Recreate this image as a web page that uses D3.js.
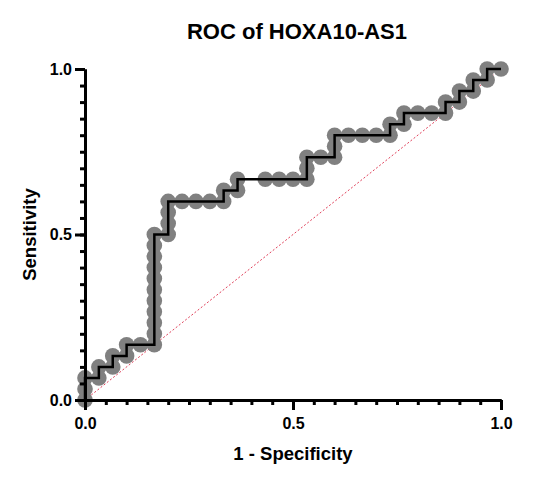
<!DOCTYPE html>
<html>
<head>
<meta charset="utf-8">
<script src="https://cdn.jsdelivr.net/npm/d3@7"></script>
<style>
  body { margin: 0; background: #fff; }
  text { font-family: Arial, "Liberation Sans", sans-serif; font-weight: bold; }
</style>
</head>
<body>
<div id="chart"></div>
<script>
// ROC points (1 - specificity, sensitivity)
const fpr = [0, 0, 0, 0.0333, 0.0333, 0.0667, 0.0667, 0.1, 0.1, 0.1333, 0.1667,
    0.1667, 0.1667, 0.1667, 0.1667, 0.1667, 0.1667, 0.1667, 0.1667, 0.1667, 0.1667,
    0.2, 0.2, 0.2, 0.2, 0.2333, 0.2667, 0.3, 0.3333, 0.3333, 0.3667, 0.3667,
    0.4333, 0.4667, 0.5, 0.5333, 0.5333, 0.5333, 0.5667, 0.6, 0.6, 0.6,
    0.6333, 0.6667, 0.7, 0.7333, 0.7333, 0.7667, 0.7667, 0.8, 0.8333, 0.8667,
    0.8667, 0.9, 0.9, 0.9333, 0.9333, 0.9667, 0.9667, 1];
const tpr = [0, 0.0333, 0.0667, 0.0667, 0.1, 0.1, 0.1333, 0.1333, 0.1667, 0.1667, 0.1667,
    0.2, 0.2333, 0.2667, 0.3, 0.3333, 0.3667, 0.4, 0.4333, 0.4667, 0.5,
    0.5, 0.5333, 0.5667, 0.6, 0.6, 0.6, 0.6, 0.6, 0.6333, 0.6333, 0.6667,
    0.6667, 0.6667, 0.6667, 0.6667, 0.7, 0.7333, 0.7333, 0.7333, 0.7667, 0.8,
    0.8, 0.8, 0.8, 0.8, 0.8333, 0.8333, 0.8667, 0.8667, 0.8667, 0.8667,
    0.9, 0.9, 0.9333, 0.9333, 0.9667, 0.9667, 1, 1];
const majorTicks = [0, 0.5, 1];
const minorTicks = d3.range(0, 1.0001, 0.05);

const chartTitle = "ROC of HOXA10-AS1";
const xTitle = "1 - Specificity";
const yTitle = "Sensitivity";

const margin = {top: 69, right: 56, bottom: 82, left: 85};
const width = 557 - margin.left - margin.right;
const height = 482 - margin.top - margin.bottom;

const svg = d3.select("#chart").append("svg")
    .attr("width", 557)
    .attr("height", 482);

const g = svg.append("g")
    .attr("transform", `translate(${margin.left},${margin.top})`);

const x = d3.scaleLinear().domain([0, 1]).range([0, width]);
const y = d3.scaleLinear().domain([0, 1]).range([height, 0]);

const points = fpr.map((f, i) => ({x: f, y: tpr[i]}));

// chance line
g.append("line")
    .attr("x1", x(0)).attr("y1", y(0))
    .attr("x2", x(1)).attr("y2", y(1))
    .attr("stroke", "#e0405a")
    .attr("stroke-width", 1)
    .attr("stroke-dasharray", "2,2");

// points
g.selectAll("circle")
    .data(points)
    .enter().append("circle")
    .attr("cx", d => x(d.x))
    .attr("cy", d => y(d.y))
    .attr("r", 7.8)
    .attr("fill", "#808080");

// staircase line
const line = d3.line().x(d => x(d.x)).y(d => y(d.y));
g.append("path")
    .datum(points)
    .attr("d", line)
    .attr("fill", "none")
    .attr("stroke", "#000")
    .attr("stroke-width", 2.5);

// axes: minor ticks then major ticks with labels
function styleAxis(sel) {
    sel.select(".domain").attr("stroke", "#000").attr("stroke-width", 3);
    sel.selectAll(".tick line").attr("stroke", "#000").attr("stroke-width", 3);
    sel.selectAll(".tick text").attr("font-size", 16).attr("fill", "#000");
}

const xMinor = g.append("g")
    .attr("transform", `translate(0,${height})`)
    .call(d3.axisBottom(x).tickValues(minorTicks).tickSize(5).tickSizeOuter(0).tickFormat(""));
styleAxis(xMinor);
const xMajor = g.append("g")
    .attr("transform", `translate(0,${height})`)
    .call(d3.axisBottom(x).tickValues(majorTicks).tickSize(10).tickSizeOuter(0)
        .tickPadding(8).tickFormat(d3.format(".1f")));
styleAxis(xMajor);

const yMinor = g.append("g")
    .call(d3.axisLeft(y).tickValues(minorTicks).tickSize(5).tickSizeOuter(0).tickFormat(""));
styleAxis(yMinor);
const yMajor = g.append("g")
    .call(d3.axisLeft(y).tickValues(majorTicks).tickSize(10).tickSizeOuter(0)
        .tickPadding(3).tickFormat(d3.format(".1f")));
styleAxis(yMajor);

// titles
svg.append("text")
    .attr("x", margin.left + width / 2 + 4)
    .attr("y", 39)
    .attr("text-anchor", "middle")
    .attr("font-size", 22)
    .text(chartTitle);

svg.append("text")
    .attr("x", margin.left + width / 2)
    .attr("y", 460)
    .attr("text-anchor", "middle")
    .attr("font-size", 18.5)
    .text(xTitle);

svg.append("text")
    .attr("transform", `translate(36,${margin.top + height / 2}) rotate(-90)`)
    .attr("text-anchor", "middle")
    .attr("font-size", 18.5)
    .text(yTitle);
</script>
</body>
</html>
